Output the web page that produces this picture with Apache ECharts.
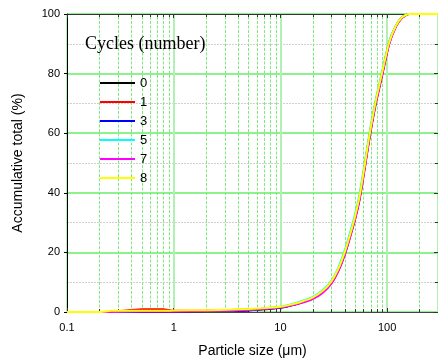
<!DOCTYPE html>
<html>
<head>
<meta charset="utf-8">
<script src="https://cdn.jsdelivr.net/npm/echarts@6/dist/echarts.min.js"></script>
<style>
html,body{margin:0;padding:0;background:#fff;}
#chart{width:438px;height:363px;}
</style>
</head>
<body>
<div id="chart"></div>
<script>
// ---- data ----
var sizes = [0.1,0.2,0.26,0.3,0.5,0.8,1,2,3.5,5,7,10,12,15,20,25,30,35,40,45,50,55,60,65,70,78,90,104,120,138,160,200,300];
var cycle0 = [0,0,0,0.1,0.1,0.1,0.2,0.3,0.4,0.5,0.9,1.4,2.0,2.9,4.5,6.8,9.8,14.2,19.6,25.8,31.5,38,46,54,61,70,80,90,95.7,98.8,100,100,100];
var cycle1 = [0,0,0,0.2,0.9,0.9,0.4,0.5,0.7,0.8,1.1,1.6,2.1,3.0,4.5,6.7,9.6,13.9,19.2,25.2,31,37.5,45.5,53.5,60.5,69.5,79.5,89.7,95.6,98.7,100,100,100];
var cycle3 = [0,0,0,0.1,0.1,0.2,0.2,0.3,0.5,0.6,1.0,1.5,2.1,3.0,4.6,6.9,9.9,14.3,19.8,26,31.8,38.3,46.3,54.3,61.3,70.3,80.2,90.1,95.7,98.8,100,100,100];
var cycle5 = [0,0,0,0.2,0.3,0.3,0.3,0.4,0.6,0.8,1.2,1.8,2.4,3.4,5.0,7.4,10.5,15,20.6,26.7,32.6,39.2,47.2,55,62.2,71,80.8,90.4,95.9,98.9,100,100,100];
var cycle7 = [0,0,0,0.1,0.2,0.2,0.2,0.3,0.5,0.7,1.0,1.5,2.0,2.8,4.3,6.5,9.5,13.8,19.1,25.1,31,37.4,45.4,53.4,60.6,69.7,79.6,89.6,95.5,98.7,100,100,100];
var cycle8 = [0,0,0.4,0.4,0.4,0.4,0.5,0.6,0.8,1.0,1.3,1.8,2.3,3.2,4.8,7.1,10.2,14.6,20,26,32,38.5,46.5,54.5,61.5,70.5,80.5,90.2,95.8,98.9,100,100,100];
var seriesNames = ['0','1','3','5','7','8'];
var seriesColors = ['#000000','#ff0000','#0000ff','#00ffff','#ff00ff','#ffff00'];
var xTickValues = [0.1,1,10,100];
var xTickLabels = ['0.1','1','10','100'];
var xMinorValues = [0.2,0.3,0.4,0.5,0.6,0.7,0.8,0.9,2,3,4,5,6,7,8,9,20,30,40,50,60,70,80,90,200];
var yTickLabels = ['0','20','40','60','80','100'];

var allValues = [cycle0,cycle1,cycle3,cycle5,cycle7,cycle8];
var FONT = 'Liberation Sans, Arial, sans-serif';

function xLabel(v){
  for (var i=0;i<xTickValues.length;i++){
    if (Math.abs(v - xTickValues[i]) < xTickValues[i]*1e-6) return xTickLabels[i];
  }
  return '';
}

var lineSeries = allValues.map(function(vals, i){
  return {
    name: seriesNames[i],
    type: 'line',
    data: sizes.map(function(s, k){ return [s, vals[k]]; }),
    symbol: 'none',
    smooth: 0.2,
    clip: false,
    lineStyle: {color: seriesColors[i], width: 2},
    itemStyle: {color: seriesColors[i]},
    z: 5 + i
  };
});

var minorSeries = {
  type: 'custom',
  silent: true,
  xAxisIndex: 0,
  yAxisIndex: 0,
  data: xMinorValues.map(function(v){ return [v]; }),
  clip: false,
  z: 1,
  renderItem: function(params, api){
    var x = api.value(0);
    var p0 = api.coord([x, 0]);
    var p1 = api.coord([x, 100]);
    var px = Math.round(p0[0]) + 0.5;
    return {
      type: 'group',
      children: [
        {type:'line', shape:{x1:px,y1:p0[1],x2:px,y2:p1[1]},
         style:{stroke:'#7fe87f', lineWidth:1, lineDash:[3,1.5], fill:null}},
        {type:'line', shape:{x1:px,y1:p0[1],x2:px,y2:p0[1]-3},
         style:{stroke:'#333333', lineWidth:1, fill:null}, z2: 10},
        {type:'line', shape:{x1:px,y1:p1[1],x2:px,y2:p1[1]+3},
         style:{stroke:'#333333', lineWidth:1, fill:null}, z2: 10}
      ]
    };
  }
};

var chart = echarts.init(document.getElementById('chart'), null, {renderer:'canvas'});
chart.setOption({
  animation: false,
  backgroundColor: '#fff',
  title: {
    text: 'Cycles (number)',
    left: 85, top: 35, padding: 0,
    textStyle: {fontFamily: 'Liberation Serif, Times New Roman, serif', fontSize: 18, fontWeight: 'normal', color: '#000'}
  },
  legend: {
    orient: 'vertical',
    left: 100, top: 76, padding: 0,
    itemWidth: 35, itemHeight: 2, itemGap: 5,
    icon: 'rect',
    data: seriesNames,
    textStyle: {fontFamily: FONT, fontSize: 13, color: '#000', lineHeight: 14}
  },
  grid: {left: 67, right: -1, top: 14, bottom: 49, containLabel: false},
  xAxis: [{
    type: 'log', logBase: 10, min: 0.1, max: 300,
    position: 'bottom',
    name: 'Particle size (\u03bcm)', nameLocation: 'middle', nameGap: 32,
    nameTextStyle: {fontFamily: FONT, fontSize: 14, color: '#000'},
    axisLine: {show: true, lineStyle: {color: '#444', width: 1}},
    axisTick: {show: true, inside: true, length: 4, lineStyle: {color: '#333'}},
    axisLabel: {fontFamily: FONT, fontSize: 11, color: '#000', margin: 10, formatter: xLabel, showMaxLabel: false},
    splitLine: {show: true, lineStyle: {color: '#b0f0b0', width: 2}},
    minorTick: {show: false}, minorSplitLine: {show: false}
  },{
    type: 'log', logBase: 10, min: 0.1, max: 300,
    position: 'top',
    axisLine: {show: true, onZero: false, lineStyle: {color: '#333', width: 1}},
    axisTick: {show: true, inside: true, length: 4, lineStyle: {color: '#333'}},
    axisLabel: {show: false},
    splitLine: {show: false}
  }],
  yAxis: [{
    type: 'value', min: 0, max: 100, interval: 20,
    name: 'Accumulative total (%)', nameLocation: 'middle', nameGap: 42,
    nameTextStyle: {fontFamily: FONT, fontSize: 14, color: '#000'},
    axisLine: {show: true, lineStyle: {color: '#000', width: 1}},
    axisTick: {show: true, inside: false, length: 3, lineStyle: {color: '#000'}},
    axisLabel: {fontFamily: FONT, fontSize: 11, color: '#000', margin: 7,
      formatter: function(v){ return yTickLabels[Math.round(v/20)]; }},
    splitLine: {show: true, lineStyle: {color: '#66ee66', width: 1.5}},
    minorTick: {show: false, splitNumber: 2},
    minorSplitLine: {show: true, lineStyle: {color: '#d0d0d0', width: 1, type: [2,1]}}
  },{
    type: 'value', min: 0, max: 100, interval: 20,
    position: 'right',
    axisLine: {show: true, onZero: false, lineStyle: {color: '#333', width: 1}},
    axisTick: {show: true, inside: true, length: 4, lineStyle: {color: '#333'}},
    minorTick: {show: true, splitNumber: 2, length: 3, lineStyle: {color: '#333'}},
    axisLabel: {show: false},
    splitLine: {show: false}
  }],
  series: [minorSeries].concat(lineSeries)
});
</script>
</body>
</html>
